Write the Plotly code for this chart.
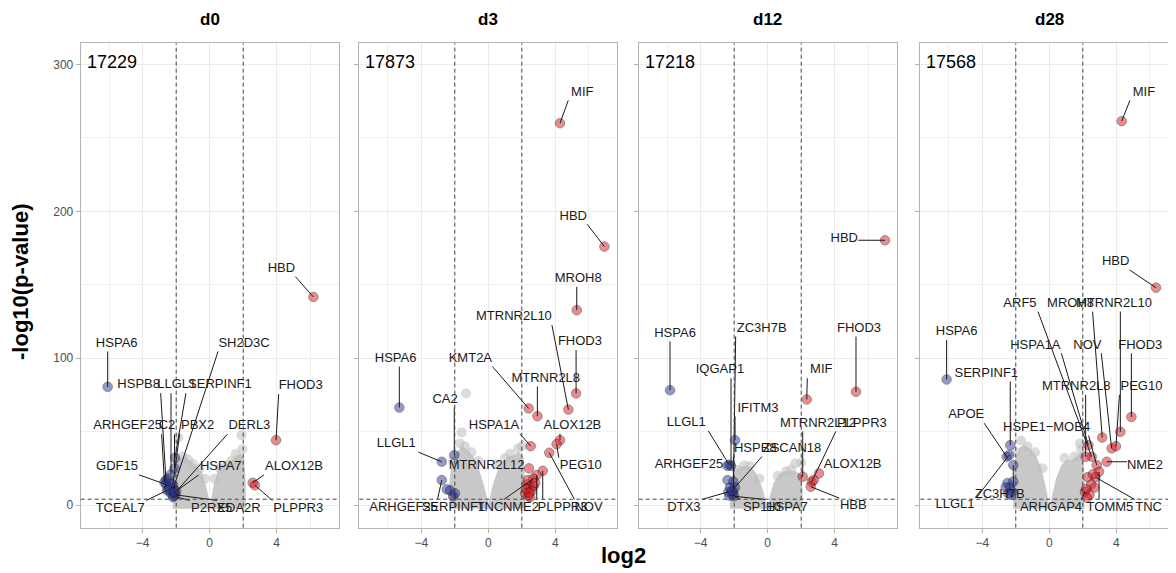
import plotly.graph_objects as go

# ---------------- data ----------------
panel_names = ["d0", "d3", "d12", "d28"]
gene_counts = [17229, 17873, 17218, 17568]

# labelled genes: name, log2 fold change, -log10(p-value)
d0_genes = ["HSPA6", "HBD", "FHOD3", "ALOX12B", "PLPPR3", "HSPB8", "LLGL1", "SERPINF1", "SH2D3C",
            "ARHGEF25", "C2", "PBX2", "DERL3", "GDF15", "HSPA7", "TCEAL7", "P2RX5", "EDA2R"]
d0_log2 = [-6.09, 6.19, 3.96, 2.57, 2.70, -2.61, -2.31, -2.07, -2.17,
           -2.70, -2.10, -2.20, -2.10, -2.60, -2.00, -2.55, -2.15, -2.05]
d0_p = [80.5, 141.7, 44.2, 15.2, 13.5, 17.0, 20.9, 32.2, 11.3,
        15.5, 25.0, 14.0, 8.0, 14.0, 9.5, 10.0, 6.0, 7.0]
d0_other_log2 = [-2.40, -2.30, -2.50, -2.20, -2.35, -2.45, -2.15]
d0_other_p = [12.0, 8.0, 18.0, 5.5, 14.5, 10.5, 9.0]

d3_genes = ["MIF", "HBD", "MROH8", "MTRNR2L10", "FHOD3", "HSPA6", "KMT2A", "MTRNR2L8", "CA2", "HSPA1A",
            "ALOX12B", "PEG10", "LLGL1", "MTRNR2L12", "NOV", "PLPPR3", "NME2", "TNC", "SERPINF1", "ARHGEF25"]
d3_log2 = [4.28, 6.93, 5.28, 4.78, 5.24, -5.31, 2.41, 2.93, -2.03, 2.53,
           4.28, 4.08, -2.78, 2.43, 3.64, 3.25, 2.89, 2.69, -1.99, -2.78]
d3_p = [260.0, 176.0, 132.7, 65.0, 76.0, 66.4, 65.8, 60.5, 34.0, 40.1,
        44.2, 41.5, 29.5, 25.0, 35.6, 23.3, 20.4, 18.0, 8.0, 17.0]
d3_other_log2 = [-2.48, -2.28, -2.10, 2.30, 2.50, 2.20, 2.40, 2.60, 2.35, 2.70, 2.80, 2.25, 2.50, 2.45]
d3_other_p = [10.7, 10.0, 6.0, 14.0, 12.0, 8.0, 6.0, 10.0, 17.0, 13.0, 15.0, 11.0, 5.5, 8.5]

d12_genes = ["HBD", "HSPA6", "ZC3H7B", "IQGAP1", "IFITM3", "MIF", "FHOD3", "LLGL1", "ARHGEF25",
             "MTRNR2L12", "PLPPR3", "ALOX12B", "HBB", "HSPB8", "ZSCAN18", "DTX3", "SP110", "HSPA7"]
d12_log2 = [7.00, -5.83, -2.05, -2.19, -1.95, 2.33, 5.27, -2.30, -2.40,
            2.09, 2.63, 3.06, 2.57, -2.05, -1.95, -2.35, -2.10, -2.00]
d12_p = [180.3, 78.2, 9.0, 26.7, 44.2, 71.9, 77.1, 27.5, 26.7,
         19.3, 15.9, 21.5, 12.5, 15.9, 12.0, 9.0, 7.0, 6.0]
d12_other_log2 = [-2.40, -2.25, -2.30, -2.15, 2.75]
d12_other_p = [17.0, 12.0, 6.5, 9.5, 17.0]

d28_genes = ["MIF", "HBD", "ARF5", "MROH8", "MTRNR2L10", "HSPA1A", "NOV", "FHOD3", "SERPINF1", "HSPA6",
             "MTRNR2L8", "PEG10", "APOE", "HSPE1\u2212MOB4", "NME2", "LLGL1", "ZC3H7B", "ARHGAP4", "TOMM5", "TNC"]
d28_log2 = [4.32, 6.37, 2.53, 3.16, 4.24, 2.33, 3.72, 4.90, -2.33, -6.13,
            2.17, 3.98, -2.54, 2.83, 3.43, -2.40, -2.15, 2.13, 2.97, 2.75]
d28_p = [261.4, 148.0, 32.9, 46.0, 49.9, 40.8, 38.6, 60.0, 40.8, 85.5,
         32.9, 40.1, 32.9, 27.2, 29.5, 34.0, 27.2, 9.0, 22.7, 19.0]
d28_other_log2 = [-2.50, -2.35, -2.20, -2.60, -2.15, -2.30, -2.45, 2.30, 2.60, 2.50, 2.20, 2.70, 2.40, 2.25]
d28_other_p = [15.0, 12.0, 9.0, 12.0, 16.0, 7.0, 8.0, 19.0, 21.0, 14.0, 11.0, 12.0, 7.0, 5.0]

# non-significant cloud: outline of each lobe and scattered edge points
d0_cloud_left = ([-2.2, -2.25, -2.1, -1.85, -1.5, -1.15, -0.8, -0.45, -0.2, 0.0, 0.05],
                 [-2.5, 10, 25, 31, 33, 30, 27, 22, 12, 2, -2.5])
d0_cloud_right = ([0.0, 0.05, 0.25, 0.5, 0.85, 1.2, 1.5, 1.8, 2.05, 2.15, 2.15],
                  [-2.5, 3, 14, 24, 27, 29, 32, 35, 33, 15, -2.5])
d0_gray_x = [-1.87, -1.9, -1.6, -1.3, -1.0, -0.6, -0.3, 0.3, 0.6, 1.0, 1.3, 1.55, 1.9, 1.95, 1.75]
d0_gray_y = [46.0, 30.0, 33.0, 31.0, 28.0, 25.0, 18.0, 18.0, 25.0, 27.0, 30.0, 34.7, 47.6, 38.0, 31.0]

d3_cloud_left = ([-2.3, -2.35, -2.2, -1.9, -1.55, -1.2, -0.9, -0.6, -0.3, 0.0, 0.05],
                 [-2.5, 12, 28, 36, 40, 37, 33, 26, 15, 2, -2.5])
d3_cloud_right = ([0.0, 0.05, 0.3, 0.6, 0.9, 1.2, 1.5, 1.8, 2.1, 2.2, 2.2],
                  [-2.5, 3, 15, 25, 30, 33, 34, 36, 33, 15, -2.5])
d3_gray_x = [-1.33, -1.59, -1.7, -1.4, -1.0, -0.6, 0.5, 1.0, 1.3, 1.77, 2.0, -2.1]
d3_gray_y = [76.0, 49.5, 42.0, 40.0, 36.0, 30.0, 28.0, 32.0, 35.0, 38.6, 40.0, 30.0]

d12_cloud_left = ([-2.25, -2.3, -2.1, -1.8, -1.4, -1.0, -0.7, -0.4, -0.15, 0.0],
                  [-2.5, 10, 20, 25, 27, 26, 22, 14, 5, -2.5])
d12_cloud_right = ([0.05, 0.1, 0.35, 0.7, 1.0, 1.35, 1.7, 2.05, 2.1],
                   [-2.5, 5, 15, 21, 23, 23, 23, 20, -2.5])
d12_gray_x = [1.63, 2.0, -1.06, -1.4, -1.8, 1.1, 0.6, -0.5, 1.4]
d12_gray_y = [28.3, 29.0, 26.5, 27.0, 24.0, 23.0, 20.0, 18.0, 24.0]

d28_cloud_left = ([-2.15, -2.2, -2.05, -1.8, -1.5, -1.1, -0.8, -0.5, -0.2, 0.0, 0.05],
                  [-2.5, 12, 30, 39, 41, 38, 34, 26, 12, 2, -2.5])
d28_cloud_right = ([0.05, 0.15, 0.4, 0.7, 1.05, 1.4, 1.7, 2.0, 2.1, 2.1],
                   [-2.5, 6, 18, 27, 31, 31, 34, 38, 20, -2.5])
d28_gray_x = [-1.69, -0.85, 1.83, 1.9, -1.3, 0.9, 1.5, -2.0, -0.4]
d28_gray_y = [44.0, 36.0, 42.0, 38.0, 40.0, 32.0, 33.0, 36.0, 25.0]

fc_cut = 2.0
p_cut = 4.0

# ---------------- label placement (layout) ----------------
d0_label_pos = {"HSPA6": (-5.55, 110), "HBD": (4.28, 161), "FHOD3": (5.43, 81), "ALOX12B": (5.03, 26),
                "PLPPR3": (5.29, -2.3), "HSPB8": (-4.24, 81.6), "LLGL1": (-1.97, 81.6),
                "SERPINF1": (0.61, 81.6), "SH2D3C": (2.05, 110), "ARHGEF25": (-4.9, 53.7),
                "C2": (-2.55, 53.7), "PBX2": (-0.72, 53.7), "DERL3": (2.37, 53.7), "GDF15": (-5.53, 26),
                "HSPA7": (0.66, 26), "TCEAL7": (-5.34, -2.3), "P2RX5": (0.12, -2.3), "EDA2R": (1.75, -2.3)}
d3_label_pos = {"MIF": (5.61, 281), "HBD": (5.07, 196.6), "MROH8": (5.37, 154), "MTRNR2L10": (1.53, 128),
                "FHOD3": (5.47, 111), "HSPA6": (-5.53, 99.8), "KMT2A": (-1.07, 99.8),
                "MTRNR2L8": (3.43, 86.2), "CA2": (-2.58, 72), "HSPA1A": (0.34, 54), "ALOX12B": (5.02, 54),
                "PEG10": (5.52, 26.8), "LLGL1": (-5.49, 41.5), "MTRNR2L12": (-0.1, 26.8),
                "NOV": (5.98, -1.6), "PLPPR3": (4.43, -1.6), "NME2": (1.95, -1.6), "TNC": (0.1, -1.6),
                "SERPINF1": (-2.08, -1.6), "ARHGEF25": (-5.06, -1.6)}
d12_label_pos = {"HBD": (4.57, 181.4), "HSPA6": (-5.53, 116.8), "ZC3H7B": (-0.36, 120.2),
                 "IQGAP1": (-2.85, 91.8), "IFITM3": (-0.58, 65.8), "MIF": (3.2, 91.8), "FHOD3": (5.45, 120.2),
                 "LLGL1": (-4.86, 56), "ARHGEF25": (-4.7, 27.7), "MTRNR2L12": (3.0, 55.6),
                 "PLPPR3": (5.62, 55.6), "ALOX12B": (5.07, 27.7), "HBB": (5.11, -0.7),
                 "HSPB8": (-0.74, 38.5), "ZSCAN18": (1.45, 38.5), "DTX3": (-5.0, -1.6),
                 "SP110": (-0.34, -1.6), "HSPA7": (1.15, -1.6)}
d28_label_pos = {"MIF": (5.65, 281), "HBD": (3.96, 165.5), "ARF5": (-1.75, 137.2), "MROH8": (1.27, 137.2),
                 "MTRNR2L10": (3.86, 137.2), "HSPA1A": (-0.83, 108.8), "NOV": (2.27, 108.8),
                 "FHOD3": (5.43, 108.8), "SERPINF1": (-3.76, 89.6), "HSPA6": (-5.53, 117.9),
                 "MTRNR2L8": (1.61, 80.5), "PEG10": (5.5, 80.5), "APOE": (-4.96, 61.2),
                 "HSPE1\u2212MOB4": (-0.16, 52.8), "NME2": (5.71, 26.5), "LLGL1": (-5.63, 0),
                 "ZC3H7B": (-2.96, 6.8), "ARHGAP4": (0.1, -1.6), "TOMM5": (3.62, -1.6), "TNC": (5.93, -1.6)}

panels = [
    (d0_genes, d0_log2, d0_p, d0_other_log2, d0_other_p, d0_cloud_left, d0_cloud_right, d0_gray_x, d0_gray_y, d0_label_pos),
    (d3_genes, d3_log2, d3_p, d3_other_log2, d3_other_p, d3_cloud_left, d3_cloud_right, d3_gray_x, d3_gray_y, d3_label_pos),
    (d12_genes, d12_log2, d12_p, d12_other_log2, d12_other_p, d12_cloud_left, d12_cloud_right, d12_gray_x, d12_gray_y, d12_label_pos),
    (d28_genes, d28_log2, d28_p, d28_other_log2, d28_other_p, d28_cloud_left, d28_cloud_right, d28_gray_x, d28_gray_y, d28_label_pos),
]

# ---------------- geometry (page pixels; page body has an 8px margin) ----------------
OFF = 8
PAGE_W, PAGE_H = 1176, 573
W, H = PAGE_W - OFF, PAGE_H - OFF
LEFTS = [80.7, 359.3, 638.7, 920.3]
PW = 258.0
TOP, BOT = 43.3, 527.7
XR = (-7.7, 7.7)
YR = (-15.4, 314.4)
SX = PW / (XR[1] - XR[0])
SY = (BOT - TOP) / (YR[1] - YR[0])
FONT = "Liberation Sans, Arial, Helvetica, sans-serif"
LABEL_SIZE = 13
BLUE = "#2a3596"
RED = "#e0151b"


def fx(px):
    return (px - OFF) / W


def fy(py):
    return 1 - (py - OFF) / H


def seg_end(x, y, lx, ly, txt):
    hw = (len(txt) * 8.0 / 2 + 2) / SX
    hh = 8.0 / SY
    ex = min(max(x, lx - hw), lx + hw)
    ey = min(max(y, ly - hh), ly + hh)
    return ex, ey


fig = go.Figure()
shapes, annotations = [], []

for i, (genes, lx, lp, ox, op, cl, cr, gx, gy, lpos) in enumerate(panels):
    sfx = "" if i == 0 else str(i + 1)
    xa, ya = "x" + sfx, "y" + sfx
    for poly in (cl, cr):
        fig.add_trace(go.Scatter(x=poly[0], y=poly[1], fill="toself", mode="lines",
                                 line=dict(width=0, color="#c6c6c6"), fillcolor="#c8c8c8",
                                 hoverinfo="skip", showlegend=False, xaxis=xa, yaxis=ya))
    fig.add_trace(go.Scatter(x=gx, y=gy, mode="markers",
                             marker=dict(size=10, color="#bebebe", opacity=0.55, line=dict(width=0)),
                             hoverinfo="skip", showlegend=False, xaxis=xa, yaxis=ya))
    allx = list(lx) + list(ox)
    ally = list(lp) + list(op)
    for col, cond in ((BLUE, lambda v: v < 0), (RED, lambda v: v > 0)):
        px_ = [a for a in allx if cond(a)]
        py_ = [b for a, b in zip(allx, ally) if cond(a)]
        fig.add_trace(go.Scatter(x=px_, y=py_, mode="markers",
                                 marker=dict(size=9.5, color=col, opacity=0.5,
                                             line=dict(width=0.9, color="#111111")),
                                 showlegend=False, xaxis=xa, yaxis=ya))
    sx, sy = [], []
    for g, x, y in zip(genes, lx, lp):
        tx, ty = lpos[g]
        ex, ey = seg_end(x, y, tx, ty, g)
        d = (((ex - x) * SX) ** 2 + ((ey - y) * SY) ** 2) ** 0.5
        if d > 5:
            sx += [x, ex, None]
            sy += [y, ey, None]
    fig.add_trace(go.Scatter(x=sx, y=sy, mode="lines", line=dict(color="#1a1a1a", width=1),
                             hoverinfo="skip", showlegend=False, xaxis=xa, yaxis=ya))
    fig.add_trace(go.Scatter(x=[lpos[g][0] for g in genes], y=[lpos[g][1] for g in genes],
                             text=genes, mode="text", textposition="middle center",
                             textfont=dict(family=FONT, size=LABEL_SIZE, color="#1a1a1a"),
                             cliponaxis=False, hoverinfo="skip", showlegend=False, xaxis=xa, yaxis=ya))

    left = LEFTS[i]
    right = min(left + PW, PAGE_W)
    xr1 = XR[0] + (right - left) / SX
    axis_common = dict(showline=True, linecolor="#b3b3b3", linewidth=1, ticks="outside", ticklen=4,
                       tickcolor="#b3b3b3", tickwidth=1, showgrid=True, gridcolor="#ebebeb", gridwidth=1,
                       zeroline=False, automargin=False,
                       tickfont=dict(family=FONT, size=12, color="#4d4d4d"))
    fig.update_layout({
        "xaxis" + sfx: dict(axis_common, domain=[fx(left), fx(right)], range=[XR[0], xr1], anchor=ya,
                            tick0=0, dtick=4, mirror=True,
                            minor=dict(dtick=2, showgrid=True, gridcolor="#f0f0f0", gridwidth=1, ticks="")),
        "yaxis" + sfx: dict(axis_common, domain=[fy(BOT), fy(TOP)], range=list(YR), anchor=xa,
                            tick0=0, dtick=100, mirror=(i < 3), showticklabels=(i == 0),
                            minor=dict(dtick=50, showgrid=True, gridcolor="#f0f0f0", gridwidth=1, ticks="")),
    })
    for v in (-fc_cut, fc_cut):
        shapes.append(dict(type="line", xref=xa, yref=ya + " domain", x0=v, x1=v, y0=0, y1=1,
                           line=dict(color="#444444", width=1, dash="4px,3px")))
    shapes.append(dict(type="line", xref=xa + " domain", yref=ya, x0=0, x1=1, y0=p_cut, y1=p_cut,
                       line=dict(color="#444444", width=1, dash="4px,3px")))
    annotations.append(dict(text="<b>" + panel_names[i] + "</b>", xref="paper", yref="paper",
                            x=fx(left + PW / 2), y=fy(20), showarrow=False, xanchor="center",
                            yanchor="middle", font=dict(family=FONT, size=17, color="#000000")))
    annotations.append(dict(text=str(gene_counts[i]), xref="paper", yref="paper",
                            x=fx(left + 4), y=fy(62), showarrow=False, xanchor="left",
                            yanchor="middle", font=dict(family=FONT, size=18, color="#000000")))

annotations.append(dict(text="<b>log2</b>", xref="paper", yref="paper", x=fx(623), y=fy(555),
                        showarrow=False, xanchor="center", yanchor="middle",
                        font=dict(family=FONT, size=22, color="#000000")))
annotations.append(dict(text="<b>-log10(p-value)</b>", xref="paper", yref="paper", x=fx(20),
                        y=fy(282), showarrow=False, xanchor="center", yanchor="middle", textangle=-90,
                        font=dict(family=FONT, size=22, color="#000000")))

fig.update_layout(width=W, height=H, margin=dict(l=0, r=0, t=0, b=0), plot_bgcolor="white",
                  paper_bgcolor="white", shapes=shapes, annotations=annotations, showlegend=False)

fig.write_html("out.html")
